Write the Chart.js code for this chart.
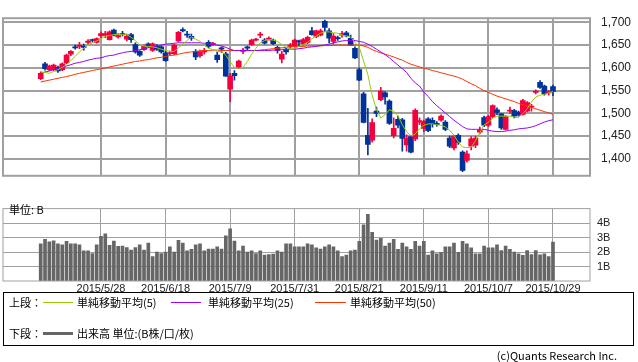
<!DOCTYPE html>
<html>
<head>
<meta charset="utf-8">
<script src="https://cdn.jsdelivr.net/npm/chart.js@4.4.0/dist/chart.umd.min.js"></script>
<style>
body { margin:0; background:#fff; width:638px; height:362px; position:relative; overflow:hidden;
       font-family:"Liberation Sans","Noto Sans CJK JP",sans-serif; font-size:11px; color:#000; }
canvas { position:absolute; left:0; }
#price { top:0; }
#vol { top:195px; }
.box { position:absolute; left:3px; top:292px; width:631px; height:54px; border:1px solid #000; box-sizing:border-box; }
.t { position:absolute; font-family:"Noto Sans CJK JP",sans-serif; font-size:11px; line-height:12px; white-space:nowrap; }
.ln { position:absolute; height:1px; }
</style>
</head>
<body>
<canvas id="price" width="638" height="194"></canvas>
<canvas id="vol" width="638" height="100"></canvas>

<div class="box"></div>
<div class="t" style="left:9px;top:296px">上段：</div>
<div class="ln" style="left:43px;top:302px;width:30px;background:#99cc00"></div>
<div class="t" style="left:77px;top:296px">単純移動平均(5)</div>
<div class="ln" style="left:171px;top:302px;width:30px;background:#9900ff"></div>
<div class="t" style="left:208px;top:296px">単純移動平均(25)</div>
<div class="ln" style="left:315px;top:302px;width:31px;background:#ff3300"></div>
<div class="t" style="left:350px;top:296px">単純移動平均(50)</div>
<div class="t" style="left:9px;top:327px">下段：</div>
<div class="ln" style="left:43px;top:332px;width:30px;height:3px;background:#666"></div>
<div class="t" style="left:77px;top:327px">出来高 単位:(B株/口/枚)</div>
<div class="t" style="right:21px;top:349px">(c)Quants Research Inc.</div>

<script>
// trading days shown (2015/5/8 - 2015/10/29)
const dates = [
  '2015/5/8','2015/5/11','2015/5/12','2015/5/13','2015/5/14','2015/5/15','2015/5/18','2015/5/19','2015/5/20','2015/5/21',
  '2015/5/22','2015/5/25','2015/5/26','2015/5/27','2015/5/28','2015/5/29','2015/6/1','2015/6/2','2015/6/3','2015/6/4',
  '2015/6/5','2015/6/8','2015/6/9','2015/6/10','2015/6/11','2015/6/12','2015/6/15','2015/6/16','2015/6/17','2015/6/18',
  '2015/6/19','2015/6/22','2015/6/23','2015/6/24','2015/6/25','2015/6/26','2015/6/29','2015/6/30','2015/7/1','2015/7/2',
  '2015/7/3','2015/7/6','2015/7/7','2015/7/8','2015/7/9','2015/7/10','2015/7/13','2015/7/14','2015/7/15','2015/7/16',
  '2015/7/17','2015/7/21','2015/7/22','2015/7/23','2015/7/24','2015/7/27','2015/7/28','2015/7/29','2015/7/30','2015/7/31',
  '2015/8/3','2015/8/4','2015/8/5','2015/8/6','2015/8/7','2015/8/10','2015/8/11','2015/8/12','2015/8/13','2015/8/14',
  '2015/8/17','2015/8/18','2015/8/19','2015/8/20','2015/8/21','2015/8/24','2015/8/25','2015/8/26','2015/8/27','2015/8/28',
  '2015/8/31','2015/9/1','2015/9/2','2015/9/3','2015/9/4','2015/9/7','2015/9/8','2015/9/9','2015/9/10','2015/9/11',
  '2015/9/14','2015/9/15','2015/9/16','2015/9/17','2015/9/18','2015/9/24','2015/9/25','2015/9/28','2015/9/29','2015/9/30',
  '2015/10/1','2015/10/2','2015/10/5','2015/10/6','2015/10/7','2015/10/8','2015/10/9','2015/10/13','2015/10/14','2015/10/15',
  '2015/10/16','2015/10/19','2015/10/20','2015/10/21','2015/10/22','2015/10/23','2015/10/26','2015/10/27','2015/10/28','2015/10/29'
];

const opens = [
  1576,1609,1596,1596,1601,1596,1611,1630,1646,1647, 1647,1656,1661,1656,1670,1672,1662,1683,1668,1675,
  1663,1673,1651,1636,1640,1653,1638,1647,1646,1633, 1631,1631,1659,1684,1674,1669,1636,1627,1635,1656,
  1651,1628,1644,1631,1553,1588,1601,1636,1646,1651, 1661,1672,1661,1663,1661,1645,1619,1641,1647,1648,
  1659,1653,1656,1681,1669,1672,1702,1681,1658,1665, 1672,1677,1665,1643,1596,1543,1452,1441,1505,1530,
  1545,1527,1451,1487,1486,1431,1449,1444,1481,1467, 1488,1485,1478,1485,1481,1446,1424,1452,1415,1397,
  1428,1430,1459,1491,1474,1493,1508,1499,1465,1505, 1506,1503,1498,1505,1514,1546,1568,1560,1545,1559
];
const highs = [
  1591,1612,1606,1608,1604,1611,1630,1638,1650,1656, 1652,1662,1663,1666,1679,1680,1681,1685,1675,1680,
  1674,1676,1655,1638,1650,1655,1655,1651,1649,1637, 1637,1652,1680,1688,1680,1674,1640,1639,1643,1660,
  1656,1634,1646,1634,1588,1594,1617,1643,1648,1663, 1665,1678,1664,1668,1663,1648,1636,1645,1654,1663,
  1661,1665,1670,1689,1683,1685,1705,1686,1675,1670, 1680,1680,1672,1646,1600,1546,1511,1488,1514,1557,
  1548,1530,1490,1494,1489,1453,1452,1510,1490,1485, 1491,1490,1482,1497,1484,1450,1452,1455,1418,1418,
  1449,1450,1470,1494,1496,1519,1512,1500,1495,1514, 1509,1505,1531,1526,1520,1552,1572,1562,1550,1562
];
const lows = [
  1574,1595,1594,1594,1590,1594,1609,1627,1641,1642, 1639,1652,1657,1654,1666,1666,1661,1670,1665,1670,
  1659,1656,1632,1625,1638,1645,1636,1638,1632,1614, 1628,1629,1657,1679,1667,1660,1618,1623,1630,1644,
  1649,1612,1634,1581,1526,1573,1599,1631,1640,1649, 1659,1666,1652,1661,1651,1632,1611,1630,1643,1646,
  1648,1650,1653,1672,1666,1670,1680,1655,1652,1660, 1667,1668,1649,1620,1572,1479,1409,1437,1493,1528,
  1520,1476,1446,1468,1417,1417,1413,1440,1475,1460, 1460,1470,1472,1483,1462,1425,1420,1432,1372,1393,
  1420,1425,1455,1471,1471,1490,1497,1465,1463,1500, 1490,1494,1496,1503,1505,1543,1555,1540,1540,1539
];
const closes = [
  1588,1598,1604,1606,1593,1609,1628,1636,1644,1650, 1645,1659,1660,1664,1675,1675,1679,1672,1671,1673,
  1670,1662,1635,1628,1647,1648,1653,1641,1635,1616, 1633,1650,1678,1681,1672,1665,1624,1635,1638,1647,
  1654,1618,1641,1582,1582,1583,1615,1639,1643,1661, 1663,1674,1654,1665,1653,1638,1630,1635,1650,1661,
  1657,1662,1667,1673,1681,1681,1689,1665,1670,1664, 1675,1670,1650,1622,1573,1480,1432,1480,1500,1549,
  1536,1478,1467,1474,1445,1446,1415,1507,1484,1482, 1462,1477,1475,1494,1465,1428,1450,1437,1375,1411,
  1444,1446,1463,1474,1493,1517,1502,1468,1493,1507, 1494,1496,1528,1524,1516,1549,1557,1543,1548,1548
];

const ma5 = [
  1591,1590,1588,1592,1596,1601,1607,1616,1625,1635, 1643,1651,1655,1659,1664,1669,1671,1673,1674,1673,
  1673,1667,1660,1650,1648,1647,1646,1644,1641,1638, 1636,1636,1644,1652,1660,1668,1663,1658,1650,1643,
  1640,1636,1636,1628,1613,1601,1599,1601,1614,1630, 1643,1655,1660,1662,1661,1658,1651,1645,1641,1643,
  1647,1651,1656,1664,1670,1676,1679,1679,1677,1676, 1672,1670,1668,1656,1645,1615,1585,1540,1508,1490,
  1497,1508,1505,1495,1475,1460,1450,1455,1466,1474, 1477,1477,1475,1474,1470,1463,1452,1437,1426,1425,
  1426,1440,1458,1475,1480,1490,1494,1494,1494,1494, 1492,1491,1500,1510,1525,1536,1540,1542,1545,1548
];
const ma25 = [
  1588,1591,1593,1596,1599,1602,1604,1607,1610,1612, 1614,1617,1619,1621,1622,1625,1627,1628,1631,1633,
  1635,1636,1638,1640,1642,1644,1646,1648,1650,1652, 1653,1654,1655,1655,1655,1655,1655,1655,1654,1653,
  1651,1650,1648,1645,1641,1638,1638,1638,1638,1638, 1638,1638,1638,1638,1639,1639,1640,1640,1641,1641,
  1642,1643,1645,1646,1647,1649,1650,1652,1655,1657, 1659,1660,1660,1660,1658,1656,1652,1647,1641,1635,
  1629,1622,1614,1606,1598,1590,1577,1567,1560,1547, 1537,1526,1517,1509,1501,1493,1485,1478,1471,1466,
  1465,1465,1465,1465,1463,1461,1460,1460,1461,1463, 1464,1466,1467,1468,1470,1473,1477,1481,1484,1486
];
const ma50 = [
  1569,1571,1573,1575,1577,1579,1581,1583,1586,1588, 1590,1592,1594,1596,1598,1600,1602,1604,1606,1608,
  1610,1612,1614,1615,1617,1618,1620,1622,1623,1625, 1627,1628,1630,1632,1634,1635,1636,1637,1638,1638,
  1639,1639,1638,1638,1638,1638,1638,1638,1638,1638, 1638,1639,1640,1641,1642,1643,1644,1645,1646,1647,
  1647,1647,1648,1648,1648,1648,1649,1649,1649,1650, 1650,1650,1650,1650,1650,1648,1645,1640,1636,1633,
  1630,1627,1624,1620,1617,1612,1608,1605,1602,1599, 1597,1594,1592,1589,1587,1584,1582,1579,1575,1570,
  1565,1561,1555,1550,1546,1542,1538,1535,1532,1529, 1526,1522,1519,1516,1513,1510,1507,1504,1501,1498
];

// volume, billions of shares
const volume = [
  2.58,2.89,2.72,2.79,2.58,2.52,2.75,2.58,2.58,2.52, 2.10,2.10,1.91,2.52,3.10,3.27,2.47,2.77,2.41,2.43,
  2.33,2.14,2.33,2.52,2.14,2.64,1.70,2.01,1.91,2.01, 2.37,2.01,2.83,2.64,2.10,2.20,2.52,2.58,2.10,2.22,
  2.22,2.37,2.22,3.14,3.63,2.77,2.10,2.43,2.01,2.10, 1.91,2.10,1.80,1.83,1.87,2.10,2.01,2.58,2.58,2.37,
  2.37,2.37,2.58,2.52,2.31,2.22,2.37,2.52,2.37,2.10, 1.70,1.80,2.10,2.14,2.75,3.90,4.63,3.38,2.85,2.96,
  2.43,2.64,2.89,2.20,2.64,2.37,2.20,2.75,2.43,2.75, 1.80,2.10,1.89,1.99,2.37,2.37,2.64,1.99,2.75,2.58,
  2.31,1.89,1.89,2.43,2.31,2.31,2.52,2.12,2.43,2.20, 2.01,1.89,1.78,2.12,1.84,2.12,1.82,1.89,1.70,2.70
];

const priceTicks = [1400, 1450, 1500, 1550, 1600, 1650, 1700];
const volTicks = [1, 2, 3, 4];
const dateTicks = ['2015/5/28','2015/6/18','2015/7/9','2015/7/31','2015/8/21','2015/9/11','2015/10/7','2015/10/29'];

const UP = '#f5003d', DOWN = '#003399', GRID = '#a0a0a0';
const xMin = -8.76, xMax = 127.6;
const tickIdx = dateTicks.map(d => dates.indexOf(d));
const candleColor = c => closes[c.dataIndex] >= opens[c.dataIndex] ? UP : DOWN;
const pts = arr => arr.map((v, i) => ({ x: i, y: v }));

const frame = {
  id: 'frame',
  afterDraw(chart, args, opts) {
    const a = chart.chartArea, c = chart.ctx;
    c.save();
    c.strokeStyle = GRID;
    c.lineWidth = opts.width;
    c.strokeRect(a.left, a.top, a.right - a.left, a.bottom - a.top);
    if (opts.label) {
      c.fillStyle = '#000';
      c.font = '11px "Noto Sans CJK JP", sans-serif';
      c.textBaseline = 'middle';
      c.fillText(opts.label, 9, 15);
    }
    c.restore();
  }
};

Chart.defaults.font.family = '"Liberation Sans", sans-serif';
Chart.defaults.color = '#222';

new Chart(document.getElementById('price'), {
  type: 'bar',
  data: {
    datasets: [
      { type: 'line', data: pts(ma5), borderColor: '#99cc00', borderWidth: 1, pointRadius: 0, order: 0 },
      { type: 'line', data: pts(ma25), borderColor: '#9900ff', borderWidth: 1, pointRadius: 0, order: 0 },
      { type: 'line', data: pts(ma50), borderColor: '#ff3300', borderWidth: 1, pointRadius: 0, order: 0 },
      { data: dates.map((d, i) => ({ x: i, y: [opens[i], closes[i]] })), backgroundColor: candleColor,
        barThickness: 5, minBarLength: 1, grouped: false, order: 1 },
      { data: dates.map((d, i) => ({ x: i, y: [lows[i], highs[i]] })), backgroundColor: candleColor,
        barThickness: 1, grouped: false, order: 2 }
    ]
  },
  options: {
    responsive: false,
    animation: false,
    layout: { padding: { left: 3, top: 3, right: 0, bottom: 4 } },
    plugins: { legend: { display: false }, tooltip: { enabled: false }, frame: { width: 2 } },
    scales: {
      x: {
        type: 'linear', min: xMin, max: xMax, offset: false,
        afterBuildTicks: s => { s.ticks = tickIdx.map(v => ({ value: v })); },
        afterFit: s => { s.height = 0; },
        ticks: { display: false },
        grid: { color: GRID, lineWidth: 2, drawTicks: false, offset: false },
        border: { display: false }
      },
      y: {
        position: 'right', min: 1363, max: 1709,
        afterBuildTicks: s => { s.ticks = priceTicks.map(v => ({ value: v })); },
        afterFit: s => { s.width = 48; },
        ticks: { padding: 11, font: { size: 12 }, callback: v => v.toLocaleString('en-US') },
        grid: { color: GRID, lineWidth: 2, drawTicks: false },
        border: { display: false }
      }
    }
  },
  plugins: [frame]
});

new Chart(document.getElementById('vol'), {
  type: 'bar',
  data: {
    datasets: [
      { data: dates.map((d, i) => ({ x: i, y: volume[i] })), backgroundColor: '#666666', barThickness: 3 }
    ]
  },
  options: {
    responsive: false,
    animation: false,
    layout: { padding: { left: 3, top: 6, right: 0, bottom: 0 } },
    plugins: { legend: { display: false }, tooltip: { enabled: false }, frame: { width: 1, label: '単位: B' } },
    scales: {
      x: {
        type: 'linear', min: xMin, max: xMax, offset: false,
        afterBuildTicks: s => { s.ticks = tickIdx.map(v => ({ value: v })); },
        afterFit: s => { s.height = 14; },
        ticks: { padding: 1, maxRotation: 0, autoSkip: false, font: { size: 11 }, callback: v => dates[v] },
        grid: { color: GRID, lineWidth: 1, drawTicks: false, offset: false },
        border: { display: false }
      },
      y: {
        position: 'right', min: 0, max: 5.03,
        afterBuildTicks: s => { s.ticks = volTicks.map(v => ({ value: v })); },
        afterFit: s => { s.width = 48; },
        ticks: { padding: 7, font: { size: 11 }, callback: v => v + 'B' },
        grid: { color: GRID, lineWidth: 1, drawTicks: false },
        border: { display: false }
      }
    }
  },
  plugins: [frame]
});
</script>
</body>
</html>
